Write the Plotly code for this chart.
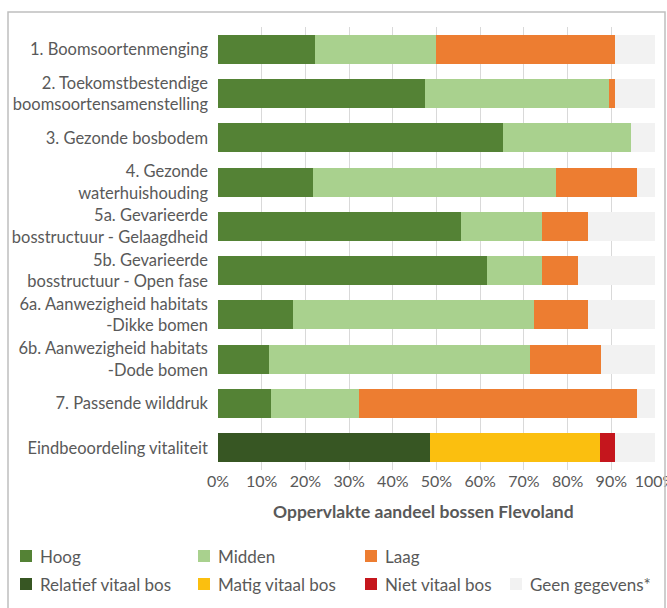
import plotly.graph_objects as go

categories = [
    "1. Boomsoortenmenging",
    "2. Toekomstbestendige<br>boomsoortensamenstelling",
    "3. Gezonde bosbodem",
    "4. Gezonde<br>waterhuishouding",
    "5a. Gevarieerde<br>bosstructuur - Gelaagdheid",
    "5b. Gevarieerde<br>bosstructuur - Open fase",
    "6a. Aanwezigheid habitats<br>-Dikke bomen",
    "6b. Aanwezigheid habitats<br>-Dode bomen",
    "7. Passende wilddruk",
    "Eindbeoordeling vitaliteit",
]

hoog = [22.2, 47.4, 65.3, 21.8, 55.5, 61.5, 17.1, 11.7, 12.1, None]
midden = [27.6, 42.0, 29.1, 55.6, 18.7, 12.7, 55.2, 59.6, 20.2, None]
laag = [41.0, 1.4, 0.0, 18.5, 10.4, 8.1, 12.3, 16.4, 63.6, None]
relatief = [None, None, None, None, None, None, None, None, None, 48.6]
matig = [None, None, None, None, None, None, None, None, None, 38.7]
niet = [None, None, None, None, None, None, None, None, None, 3.5]
geen = [9.2, 9.2, 5.6, 4.1, 15.4, 17.7, 15.4, 12.3, 4.1, 9.2]

x_ticks = [0, 10, 20, 30, 40, 50, 60, 70, 80, 90, 100]
x_tick_labels = ["0%", "10%", "20%", "30%", "40%", "50%", "60%", "70%", "80%", "90%", "100%"]
x_title = "Oppervlakte aandeel bossen Flevoland"

series = [
    ("Hoog", hoog, "#548235"),
    ("Midden", midden, "#A9D18E"),
    ("Laag", laag, "#ED7D31"),
    ("Relatief vitaal bos", relatief, "#375623"),
    ("Matig vitaal bos", matig, "#FBBF0F"),
    ("Niet vitaal bos", niet, "#C5161D"),
    ("Geen gegevens*", geen, "#F2F2F2"),
]

FONT = "Lato, 'Open Sans', sans-serif"
TXT = "#595959"

fig = go.Figure()
for name, vals, col in series:
    fig.add_trace(go.Bar(
        y=categories, x=vals, name=name, orientation="h",
        marker=dict(color=col, line=dict(width=0)),
        showlegend=False,
    ))

W, H = 667, 608
L, R, T, B = 218, 12, 27, 138
pw, ph = W - L - R, H - T - B

def px(x):
    return (x - L) / pw

def py(y):
    return (H - B - y) / ph

shapes = []
annotations = []

# outer frame
shapes.append(dict(type="rect", xref="paper", yref="paper",
                   x0=px(8), x1=px(665), y0=py(12), y1=py(640),
                   line=dict(color="#BFBFBF", width=1.5), layer="above"))

legend_items = [
    ("Hoog", "#548235", 20, 556),
    ("Midden", "#A9D18E", 198, 556),
    ("Laag", "#ED7D31", 365, 556),
    ("Relatief vitaal bos", "#375623", 20, 584),
    ("Matig vitaal bos", "#FBBF0F", 198, 584),
    ("Niet vitaal bos", "#C5161D", 365, 584),
    ("Geen gegevens*", "#F2F2F2", 510, 584),
]
for name, col, lx, ly in legend_items:
    shapes.append(dict(type="rect", xref="paper", yref="paper",
                       x0=px(lx), x1=px(lx + 12), y0=py(ly - 6), y1=py(ly + 6),
                       fillcolor=col, line=dict(width=0)))
    annotations.append(dict(xref="paper", yref="paper", x=px(lx + 18), y=py(ly),
                            text=name, showarrow=False, xanchor="left", yanchor="middle",
                            font=dict(family=FONT, size=17, color=TXT)))

annotations.append(dict(xref="paper", yref="paper", x=px(423), y=py(512),
                        text="<b>" + x_title + "</b>", showarrow=False,
                        xanchor="center", yanchor="middle",
                        font=dict(family=FONT, size=17.5, color=TXT)))

fig.update_layout(
    width=W, height=H,
    margin=dict(l=L, r=R, t=T, b=B, autoexpand=False),
    barmode="stack", bargap=0.345,
    paper_bgcolor="white", plot_bgcolor="white",
    font=dict(family=FONT, color=TXT),
    shapes=shapes, annotations=annotations,
    xaxis=dict(range=[0, 100], tickmode="array", tickvals=x_ticks, ticktext=x_tick_labels,
               showgrid=True, gridcolor="#D9D9D9", gridwidth=1,
               zeroline=False, showline=False, ticks="",
               ticklabeloverflow="allow",
               tickfont=dict(family=FONT, size=16, color=TXT),
               fixedrange=True),
    yaxis=dict(autorange="reversed", showgrid=False, showline=False,
               ticks="", ticklabelstandoff=9,
               tickfont=dict(family=FONT, size=16.5, color=TXT)),
)

fig.write_html("out.html", config={"displayModeBar": False},
               post_script="document.body.style.margin='0';")
